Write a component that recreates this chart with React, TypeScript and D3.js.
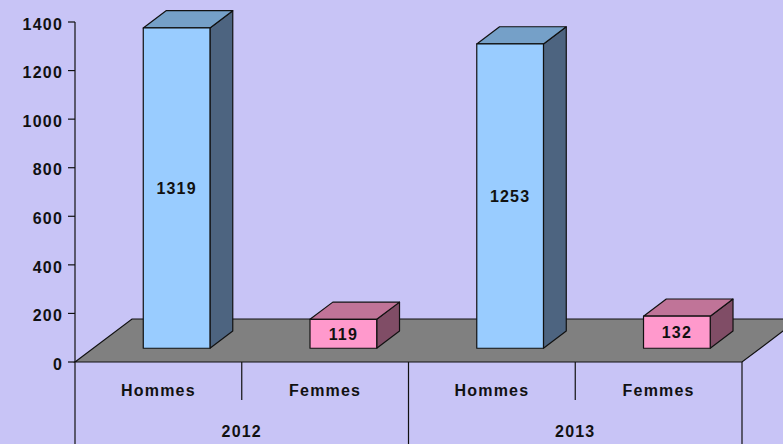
import * as d3 from 'd3';
import { useEffect, useRef } from "react";

const years = ['2012', '2013'];
const genres = ['Hommes', 'Femmes'];
const hommes = [1319, 1253];
const femmes = [119, 132];
const yTickValues = [0, 200, 400, 600, 800, 1000, 1200, 1400];

const W = 783, H = 444;
const margin = { left: 75, right: 41, top: 22, bottom: 82 };
const depth = [57, -43]; // floor depth vector
const barFront = 0.32, barBack = 0.72; // fraction of depth

const colors = {
    bg: 'rgb(200,196,246)',
    floor: '#808080',
    h: { front: '#99ccff', top: '#75a0c8', side: '#4d6480' },
    f: { front: '#ff99cc', top: '#c07498', side: '#804d66' },
};

const font = '"Liberation Sans", Arial, sans-serif';

const App = () => {
    const svgRef = useRef(null);

    useEffect(() => {
        document.body.style.margin = '0';
        const svg = d3.select(svgRef.current)
            .attr('width', W)
            .attr('height', H);
        svg.selectAll('*').remove();

        svg.append('rect').attr('width', W).attr('height', H).attr('fill', colors.bg);

        // categories Hommes/Femmes per year
        const cats = [];
        years.forEach((yr, i) => {
            cats.push({ key: yr + '-H', year: yr, genre: genres[0], value: hommes[i], c: colors.h });
            cats.push({ key: yr + '-F', year: yr, genre: genres[1], value: femmes[i], c: colors.f });
        });

        const x = d3.scaleBand(cats.map(d => d.key), [margin.left, W - margin.right]);
        const yearX = d3.scaleBand(years, [margin.left, W - margin.right]);
        const y = d3.scaleLinear().domain([0, 1400]).range([H - margin.bottom, margin.top]);
        const y0 = y(0);

        // floor
        const fl = [
            [margin.left, y0],
            [margin.left + depth[0], y0 + depth[1]],
            [W - margin.right + depth[0], y0 + depth[1]],
            [W - margin.right, y0],
        ];
        svg.append('path')
            .attr('d', d3.line()(fl) + 'Z')
            .attr('fill', colors.floor)
            .attr('stroke', '#111')
            .attr('stroke-width', 1.2);

        // bars
        const fdx = depth[0] * barFront, fdy = depth[1] * barFront;
        const sdx = depth[0] * (barBack - barFront), sdy = depth[1] * (barBack - barFront);
        const bw = x.bandwidth() * 0.4;

        cats.forEach(d => {
            const cx = x(d.key) + x.bandwidth() / 2 + fdx;
            const x0 = cx - bw / 2, x1 = cx + bw / 2;
            const yb = y0 + fdy, yt = y(d.value) + fdy;
            const g = svg.append('g')
                .attr('stroke', '#111')
                .attr('stroke-width', 1.2)
                .attr('stroke-linejoin', 'round');
            g.append('path')
                .attr('d', d3.line()([[x1, yb], [x1 + sdx, yb + sdy], [x1 + sdx, yt + sdy], [x1, yt]]) + 'Z')
                .attr('fill', d.c.side);
            g.append('path')
                .attr('d', d3.line()([[x0, yt], [x0 + sdx, yt + sdy], [x1 + sdx, yt + sdy], [x1, yt]]) + 'Z')
                .attr('fill', d.c.top);
            g.append('rect')
                .attr('x', x0).attr('y', yt)
                .attr('width', bw).attr('height', yb - yt)
                .attr('fill', d.c.front);
            svg.append('text')
                .attr('x', cx)
                .attr('y', (yt + yb) / 2)
                .attr('dy', '0.36em')
                .attr('text-anchor', 'middle')
                .attr('font-family', font)
                .attr('font-weight', 'bold')
                .attr('font-size', 16)
                .attr('letter-spacing', 1.2)
                .attr('fill', '#111')
                .text(d.value);
        });

        // value axis
        const yAxis = svg.append('g');
        yAxis.append('line')
            .attr('x1', margin.left).attr('x2', margin.left)
            .attr('y1', y(1400)).attr('y2', H)
            .attr('stroke', '#111').attr('stroke-width', 1.2);
        yTickValues.forEach(v => {
            yAxis.append('line')
                .attr('x1', margin.left - 7).attr('x2', margin.left)
                .attr('y1', y(v)).attr('y2', y(v))
                .attr('stroke', '#111').attr('stroke-width', 1.2);
            yAxis.append('text')
                .attr('x', margin.left - 12)
                .attr('y', y(v) + 2)
                .attr('dy', '0.36em')
                .attr('text-anchor', 'end')
                .attr('font-family', font)
                .attr('font-weight', 'bold')
                .attr('font-size', 16)
                .attr('letter-spacing', 1.2)
                .attr('fill', '#111')
                .text(v);
        });

        // category axis
        const xAxis = svg.append('g');
        cats.forEach((d, i) => {
            const bx = x(d.key) + x.bandwidth();
            const outer = i % 2 === 1;
            xAxis.append('line')
                .attr('x1', bx).attr('x2', bx)
                .attr('y1', y0).attr('y2', outer ? H : y0 + 38)
                .attr('stroke', '#111').attr('stroke-width', 1.2);
            xAxis.append('text')
                .attr('x', x(d.key) + x.bandwidth() / 2)
                .attr('y', y0 + 34)
                .attr('text-anchor', 'middle')
                .attr('font-family', font)
                .attr('font-weight', 'bold')
                .attr('font-size', 16)
                .attr('letter-spacing', 1.2)
                .attr('fill', '#111')
                .text(d.genre);
        });
        years.forEach(yr => {
            xAxis.append('text')
                .attr('x', yearX(yr) + yearX.bandwidth() / 2)
                .attr('y', y0 + 75)
                .attr('text-anchor', 'middle')
                .attr('font-family', font)
                .attr('font-weight', 'bold')
                .attr('font-size', 16)
                .attr('letter-spacing', 1.2)
                .attr('fill', '#111')
                .text(yr);
        });
    });

    return (
        <svg ref={svgRef} style={{ display: 'block', position: 'absolute', left: 0, top: 0 }} />
    );
}

export default App;
